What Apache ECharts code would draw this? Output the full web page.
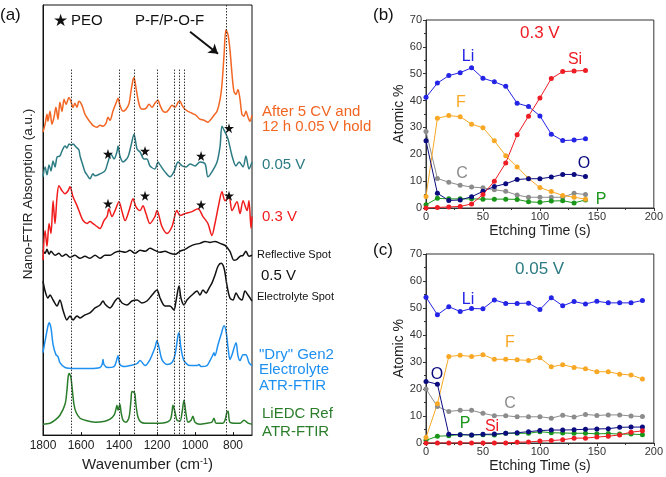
<!DOCTYPE html>
<html>
<head>
<meta charset="utf-8">
<script src="https://cdn.jsdelivr.net/npm/echarts@6/dist/echarts.min.js"></script>
<style>
  html, body { margin: 0; padding: 0; background: #fff; }
  #chart { width: 666px; height: 477px; }
</style>
</head>
<body>
<div id="chart"></div>
<script>
// ---------- panel (a): nano-FTIR spectra, [wavenumber, offset absorbance a.u.] ----------
const specAfterCV = [[1800,305],[1789,313],[1779,323],[1774,316],[1763,326],[1753,313],[1742,320],[1732,330],[1721,318],[1711,335],[1700,326],[1689,338],[1679,333],[1663,340],[1653,336],[1642,330],[1632,334],[1621,330],[1611,336],[1595,332],[1579,323],[1563,318],[1547,314],[1532,311],[1516,310],[1500,312],[1484,311],[1468,314],[1458,320],[1447,317],[1432,326],[1416,334],[1405,339],[1395,332],[1379,326],[1363,328],[1347,334],[1337,346],[1326,358],[1321,360],[1311,350],[1300,338],[1289,330],[1274,328],[1258,329],[1242,333],[1226,330],[1211,334],[1195,337],[1184,332],[1168,326],[1153,325],[1137,328],[1121,332],[1105,330],[1089,335],[1079,336],[1068,332],[1053,328],[1037,326],[1016,324],[995,322],[974,318],[953,317],[932,315],[916,318],[900,322],[884,326],[868,338],[858,353],[847,383],[837,408],[826,403],[816,388],[805,363],[795,346],[784,343],[774,348],[763,338],[753,323],[742,321],[732,326],[721,320],[711,316],[700,322]];
const spec005V = [[1800,260],[1789,270],[1779,262],[1768,272],[1758,266],[1747,276],[1737,270],[1726,280],[1711,281],[1700,286],[1684,291],[1674,289],[1663,293],[1653,292],[1642,293],[1626,290],[1611,287],[1605,281],[1589,271],[1579,265],[1568,262],[1553,258],[1537,263],[1526,261],[1500,263],[1474,266],[1458,275],[1442,283],[1426,278],[1411,285],[1405,291],[1395,281],[1379,275],[1353,280],[1337,291],[1321,303],[1305,288],[1289,285],[1268,278],[1253,278],[1237,271],[1211,268],[1195,275],[1184,272],[1158,265],[1132,260],[1111,265],[1089,275],[1068,271],[1047,270],[1026,273],[1000,271],[974,275],[947,273],[932,260],[911,265],[884,275],[868,291],[858,311],[842,305],[826,298],[805,281],[784,271],[768,275],[747,270],[732,281],[716,268],[700,275]];
const spec03V = [[1800,176],[1789,206],[1779,190],[1768,213],[1758,203],[1747,236],[1737,213],[1726,240],[1716,251],[1700,246],[1684,243],[1668,246],[1658,250],[1642,240],[1621,231],[1605,223],[1589,216],[1568,213],[1553,215],[1537,213],[1516,210],[1500,208],[1479,216],[1463,220],[1453,228],[1437,220],[1421,226],[1400,235],[1384,225],[1368,216],[1347,226],[1326,238],[1311,230],[1289,226],[1274,231],[1258,223],[1237,213],[1211,220],[1200,226],[1174,210],[1147,203],[1121,210],[1095,226],[1079,221],[1053,223],[1016,225],[984,228],[958,220],[932,213],[911,201],[895,213],[874,233],[858,245],[842,236],[821,240],[805,226],[779,235],[763,223],[747,236],[726,226],[716,236],[705,208],[700,220]];
const specReflective = [[1800,186],[1789,183],[1779,187],[1768,182],[1758,185],[1737,181],[1716,183],[1700,180],[1679,182],[1658,179],[1632,181],[1605,178],[1579,180],[1553,178],[1526,181],[1500,178],[1474,181],[1447,181],[1421,184],[1395,185],[1368,184],[1342,186],[1316,183],[1289,186],[1263,185],[1237,188],[1211,186],[1184,184],[1158,185],[1132,183],[1105,182],[1079,185],[1053,187],[1026,190],[1000,192],[974,193],[947,195],[921,194],[895,195],[868,193],[842,191],[816,185],[795,176],[779,177],[763,180],[747,181],[732,185],[716,180],[700,181]];
const specElectrolyte = [[1800,155],[1789,145],[1774,138],[1763,141],[1747,136],[1726,130],[1711,136],[1695,126],[1674,116],[1658,120],[1642,116],[1621,120],[1605,118],[1579,121],[1553,123],[1526,128],[1500,131],[1484,135],[1474,132],[1447,128],[1421,135],[1405,138],[1384,133],[1358,131],[1332,135],[1305,136],[1279,133],[1253,135],[1226,141],[1200,146],[1184,138],[1158,130],[1132,130],[1111,126],[1100,135],[1084,150],[1074,138],[1058,131],[1042,136],[1016,141],[989,145],[974,141],[958,146],[942,143],[926,148],[911,153],[895,161],[879,170],[863,173],[847,168],[832,151],[816,138],[800,136],[784,143],[768,138],[753,136],[737,145],[721,141],[700,135]];
const specDryGen2 = [[1800,83],[1779,105],[1768,113],[1758,108],[1747,91],[1732,81],[1721,79],[1711,73],[1684,68],[1632,67],[1553,67],[1500,68],[1489,71],[1484,76],[1479,71],[1458,68],[1426,69],[1416,73],[1405,80],[1395,71],[1368,69],[1342,70],[1305,72],[1289,75],[1263,70],[1237,76],[1211,88],[1200,95],[1189,88],[1174,76],[1147,71],[1121,73],[1105,81],[1089,101],[1084,103],[1074,88],[1058,75],[1026,70],[989,70],[979,71],[968,69],[937,70],[921,75],[905,81],[900,83],[895,80],[879,91],[863,101],[847,110],[837,105],[826,88],[816,76],[805,81],[784,93],[774,80],[763,75],[747,81],[732,81],[716,73],[700,70]];
const specLiEDC = [[1800,11],[1763,12],[1737,15],[1711,20],[1684,31],[1674,45],[1668,58],[1663,62],[1658,61],[1653,58],[1647,48],[1637,31],[1626,23],[1605,17],[1579,15],[1526,13],[1474,14],[1447,16],[1426,20],[1416,26],[1411,30],[1405,25],[1400,28],[1395,31],[1389,23],[1379,15],[1363,13],[1347,18],[1337,35],[1332,44],[1321,43],[1316,41],[1311,31],[1300,18],[1284,13],[1263,12],[1184,12],[1132,15],[1121,23],[1116,30],[1105,23],[1095,15],[1079,14],[1068,23],[1058,35],[1047,21],[1037,13],[1021,15],[1011,19],[1000,13],[974,11],[937,12],[911,13],[900,17],[889,12],[853,12],[842,15],[832,23],[826,24],[816,13],[784,12],[763,12],[742,15],[721,12],[700,11]];

// dotted reference lines (cm-1)
const refLines = [1650, 1400, 1320, 1200, 1110, 1083, 1055];
const pfLine = 835;
// PEO stars on the 0.05 V and 0.3 V traces
const peoStars005 = [[1458,283],[1263,286],[968,281],[821,309]];
const peoStars03 = [[1458,233],[1263,241],[968,232],[821,241]];
const waveTicks = [800, 1000, 1200, 1400, 1600, 1800];

// ---------- panels (b) and (c): XPS depth profiles ----------
const timeB = [0,10,20,30,40,50,60,70,80,90,100,110,120,130,140];
const liB = [41.2,46.5,49.3,50.4,52.2,48.3,47,45.3,39,37.8,34.3,27.5,25.1,25.3,25.8];
const siB = [0,0.2,0.4,0.6,1.5,5,10,16.8,27.3,34.2,41,48.2,50.8,51,51.2];
const fB = [4.3,33.4,34.4,34,31.2,29.9,25,19.5,15.3,11,7.6,6.1,4.7,4,3.3];
const cB = [28.5,11,9.6,8.5,7.8,7.5,6.8,6.2,4.8,4,4,4,4,5.5,5];
const oB = [25,5.5,2.8,3,4.2,6.2,8,9,10.6,10.9,10.9,11.5,12.5,12.5,11.7];
const pB = [1.2,3.6,3.4,3.4,3.4,3.3,3.3,3.3,3.2,2.3,2.1,2.6,2.7,1.9,3];

const timeC = [0,10,20,30,40,50,60,70,80,90,100,110,120,130,140,150,160,170,180,190];
const liC = [54,47.5,50.5,48.7,49.8,49.7,53,51.7,51.7,51.8,49.4,53.8,50.8,52.4,51.5,52.5,51.9,51.9,51.9,52.8];
const fC = [2,14.5,32,32.5,32,32.7,31,31,30.8,30.6,31.6,28.2,29,28,27.5,26.4,26.4,25.5,25.2,23.7];
const oC = [22.8,21.8,3.2,3.1,3,3.2,3.3,3.6,3.8,4.2,4.6,4.8,4.8,4.9,5.1,5.2,5.3,5.8,5.9,5.9];
const cC = [20,13.5,11.7,12.1,12.1,11,10.1,10.1,9.7,9.7,9.7,9.2,10.3,9.6,10.6,10.2,10.4,10.4,10,9.8];
const pC = [1,2.5,2.7,3.1,2.9,3.1,3,3.6,3.6,3.6,4.2,3.8,3.7,3.6,3.6,3.4,3.5,3.3,3.3,3.1];
const siC = [0,0,0,0,0,0,0,0,0.3,0.4,0.7,0.9,1.2,1.8,1.8,2.2,2.5,3,4,4.5];

const FONT = 'Liberation Sans, Arial, sans-serif';
const STAR = 'path://M50,0 L61,35 L98,35 L68,57 L79,91 L50,70 L21,91 L32,57 L2,35 L39,35 Z';
const col = {
    afterCV: '#f26522', v005: '#2b7b83', v03: '#f01c1c', black: '#111111',
    dry: '#1e90f0', liedc: '#2a7d2a',
    Li: '#2424e6', Si: '#ee1c24', F: '#f9a825', C: '#8c8c8c', O: '#0b0b80', P: '#1a961a'
};

function specSeries(data, color) {
    return {
        type: 'line', xAxisIndex: 0, yAxisIndex: 0, data: data,
        showSymbol: false, smooth: 0.3,
        lineStyle: { color: color, width: 1.5 }, silent: true
    };
}

function xpsSeries(idx, times, vals, color) {
    return {
        type: 'line', xAxisIndex: idx, yAxisIndex: idx,
        data: times.map((t, i) => [t, vals[i]]),
        symbol: 'circle', symbolSize: 5,
        itemStyle: { color: color }, lineStyle: { color: color, width: 1 }
    };
}

function xpsAxes(idx, xmax) {
    return {
        x: {
            gridIndex: idx, type: 'value', min: 0, max: xmax, interval: 50,
            name: 'Etching Time (s)', nameLocation: 'middle', nameGap: 16,
            nameTextStyle: { fontFamily: FONT, fontSize: 14, color: '#222' },
            axisLine: { lineStyle: { color: '#333' } },
            axisTick: { length: 3, lineStyle: { color: '#333' } },
            minorTick: { show: true, splitNumber: 2, length: 2 },
            axisLabel: { fontFamily: FONT, fontSize: 11, color: '#333', margin: 3 },
            splitLine: { show: false }
        },
        y: {
            gridIndex: idx, type: 'value', min: 0, max: 70, interval: 10,
            name: 'Atomic %', nameLocation: 'middle', nameGap: 19,
            nameTextStyle: { fontFamily: FONT, fontSize: 14, color: '#222' },
            axisLine: { lineStyle: { color: '#333' } },
            axisTick: { length: 3, lineStyle: { color: '#333' } },
            minorTick: { show: true, splitNumber: 2, length: 2 },
            axisLabel: { fontFamily: FONT, fontSize: 11, color: '#333', margin: 4 },
            splitLine: { show: false }
        }
    };
}

function txt(x, y, text, color, size, align) {
    return {
        type: 'text', x: x, y: y,
        style: { text: text, fill: color, font: size + 'px ' + FONT, align: align || 'left', verticalAlign: 'middle' }
    };
}

const axB = xpsAxes(1, 200);
const axC = xpsAxes(2, 200);

const dottedLines = refLines.map(w => [{ coord: [w, 368] }, { coord: [w, 0] }]);
dottedLines.push([{ coord: [pfLine, 433] }, { coord: [pfLine, 0] }]);

const option = {
    animation: false,
    backgroundColor: '#fff',
    grid: [
        { left: 43, top: 5, width: 209, height: 433, show: true, borderColor: '#111', borderWidth: 1 },
        { left: 426, top: 20, width: 231, height: 188, show: true, borderColor: '#333', borderWidth: 1 },
        { left: 426, top: 254, width: 231, height: 189, show: true, borderColor: '#333', borderWidth: 1 }
    ],
    xAxis: [
        {
            gridIndex: 0, type: 'value', min: 700, max: 1800, inverse: true,
            name: 'Wavenumber (cm{sup|-1})', nameLocation: 'middle', nameGap: 21,
            nameTextStyle: {
                fontFamily: FONT, fontSize: 15, color: '#222',
                rich: { sup: { fontFamily: FONT, fontSize: 9, color: '#222', verticalAlign: 'top' } }
            },
            axisLine: { lineStyle: { color: '#111' } },
            axisTick: { inside: true, length: 3, customValues: waveTicks },
            axisLabel: {
                fontFamily: FONT, fontSize: 12, color: '#222', margin: 5,
                customValues: waveTicks, formatter: v => String(v)
            },
            splitLine: { show: false }
        },
        axB.x, axC.x
    ],
    yAxis: [
        {
            gridIndex: 0, type: 'value', min: 0, max: 433,
            axisLine: { show: true, lineStyle: { color: '#111' } },
            axisTick: { show: false }, axisLabel: { show: false }, splitLine: { show: false }
        },
        axB.y, axC.y
    ],
    series: [
        Object.assign(specSeries(specLiEDC, col.liedc), {
            markLine: {
                silent: true, symbol: 'none', label: { show: false },
                lineStyle: { color: '#333', type: [1.5, 1.5], width: 1 },
                data: dottedLines
            }
        }),
        specSeries(specDryGen2, col.dry),
        specSeries(specElectrolyte, col.black),
        specSeries(specReflective, col.black),
        specSeries(spec03V, col.v03),
        specSeries(spec005V, col.v005),
        Object.assign(specSeries(specAfterCV, col.afterCV), {
            markLine: {
                silent: true, symbol: ['none', 'arrow'], symbolSize: 9, label: { show: false },
                lineStyle: { color: '#111', type: 'solid', width: 2 },
                data: [[{ coord: [1026, 406] }, { coord: [879, 384] }]]
            }
        }),
        {
            type: 'scatter', xAxisIndex: 0, yAxisIndex: 0, symbol: STAR, symbolSize: 10,
            itemStyle: { color: '#111', opacity: 1 }, data: peoStars005.concat(peoStars03), z: 5
        },
        xpsSeries(1, timeB, cB, col.C),
        xpsSeries(1, timeB, pB, col.P),
        xpsSeries(1, timeB, fB, col.F),
        xpsSeries(1, timeB, oB, col.O),
        xpsSeries(1, timeB, liB, col.Li),
        xpsSeries(1, timeB, siB, col.Si),
        xpsSeries(2, timeC, cC, col.C),
        xpsSeries(2, timeC, pC, col.P),
        xpsSeries(2, timeC, fC, col.F),
        xpsSeries(2, timeC, oC, col.O),
        xpsSeries(2, timeC, liC, col.Li),
        xpsSeries(2, timeC, siC, col.Si)
    ],
    graphic: [
        // panel (a)
        txt(0, 15, '(a)', '#111', 17),
        txt(53, 21, '\u2605', '#111', 17),
        txt(71, 21, 'PEO', '#111', 15),
        txt(135, 21, 'P-F/P-O-F', '#111', 15),
        {
            type: 'text', x: 28, y: 194, rotation: Math.PI / 2,
            style: { text: 'Nano-FTIR Absorption (a.u.)', fill: '#222', font: '13.5px ' + FONT, align: 'center', verticalAlign: 'middle' }
        },
        txt(262, 112, 'After 5 CV and', col.afterCV, 15),
        txt(262, 127, '12 h 0.05 V hold', col.afterCV, 15),
        txt(262, 165, '0.05 V', col.v005, 15),
        txt(262, 217, '0.3 V', col.v03, 15),
        txt(257, 255, 'Reflective Spot', '#111', 11),
        txt(261, 276, '0.5 V', '#111', 15),
        txt(257, 297, 'Electrolyte Spot', '#111', 11),
        txt(259, 355, '"Dry" Gen2', col.dry, 15),
        txt(259, 370, 'Electrolyte', col.dry, 15),
        txt(259, 386, 'ATR-FTIR', col.dry, 15),
        txt(262, 414, 'LiEDC Ref', col.liedc, 15),
        txt(262, 432, 'ATR-FTIR', col.liedc, 15),
        // panel (b)
        txt(373, 15, '(b)', '#111', 17),
        txt(520, 33, '0.3 V', col.Si, 17),
        txt(468, 57, 'Li', col.Li, 16, 'center'),
        txt(575, 60, 'Si', col.Si, 16, 'center'),
        txt(461, 103, 'F', col.F, 16, 'center'),
        txt(462, 174, 'C', col.C, 16, 'center'),
        txt(584, 164, 'O', col.O, 16, 'center'),
        txt(601, 200, 'P', col.P, 16, 'center'),
        // panel (c)
        txt(373, 250, '(c)', '#111', 17),
        txt(515, 269, '0.05 V', col.v005, 17),
        txt(468, 300, 'Li', col.Li, 16, 'center'),
        txt(510, 343, 'F', col.F, 16, 'center'),
        txt(437, 375, 'O', col.O, 16, 'center'),
        txt(510, 404, 'C', col.C, 16, 'center'),
        txt(465, 424, 'P', col.P, 16, 'center'),
        txt(492, 427, 'Si', col.Si, 16, 'center')
    ]
};

const chart = echarts.init(document.getElementById('chart'));
chart.setOption(option);
</script>
</body>
</html>
